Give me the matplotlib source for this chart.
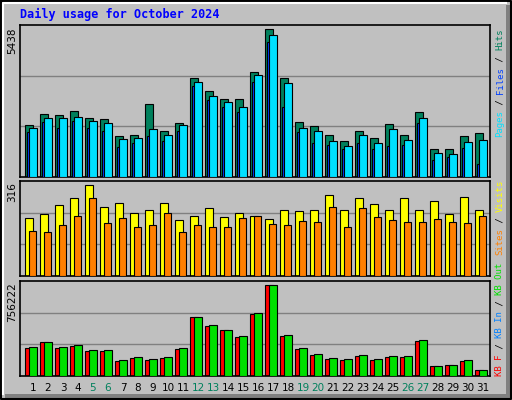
import matplotlib
matplotlib.use("Agg")
import matplotlib.pyplot as plt
from matplotlib.patches import Rectangle

days = list(range(1, 32))
weekend_days = [5, 6, 12, 13, 19, 20, 26, 27]
hits = [1876, 2271, 2235, 2378, 2127, 2091, 1482, 1518, 2629, 1661, 1948, 3525, 3059, 2808, 2808, 3740,
        5282, 3525, 1984, 1840, 1518, 1303, 1661, 1410, 1912, 1518, 2342, 1016, 1016, 1482, 1589]
files = [1769, 2127, 2127, 2163, 2020, 1948, 1374, 1410, 1733, 1518, 1876, 3382, 2880, 2701, 2521, 3633,
         5067, 3346, 1769, 1661, 1303, 1123, 1518, 1231, 1733, 1338, 2127, 872, 837, 1267, 1338]
pages = [1625, 1984, 1769, 2020, 1769, 1661, 1087, 1231, 1482, 1303, 1661, 3238, 2772, 2521, 2342, 3382,
         4816, 2521, 1625, 1231, 1159, 1016, 1231, 1016, 1123, 1159, 1948, 621, 729, 1052, 478]
visits = [192, 205, 235, 258, 304, 231, 244, 208, 221, 244, 185, 198, 225, 195, 208, 201,
          188, 221, 215, 218, 268, 218, 261, 238, 221, 258, 218, 248, 205, 264, 221]
sites = [149, 145, 168, 201, 261, 175, 192, 162, 168, 211, 145, 168, 162, 162, 192, 201,
         172, 168, 182, 178, 228, 162, 225, 195, 185, 178, 178, 188, 178, 175, 201]
kbytes = [227000, 270000, 227000, 243000, 204000, 204000, 124000, 148000, 132000, 148000, 219000,
          473000, 402000, 370000, 315000, 505000, 727000, 323000, 219000, 172000, 140000, 132000,
          164000, 132000, 156000, 156000, 283000, 77000, 85000, 124000, 45000]
kbytes_f = [225000, 268000, 225000, 241000, 202000, 202000, 123000, 147000, 131000, 147000, 217000,
            468000, 399000, 367000, 312000, 497000, 724000, 320000, 217000, 170000, 139000, 131000,
            156000, 131000, 155000, 155000, 281000, 76000, 84000, 123000, 44000]
max_hits, max_visits, max_kb = 5438, 316, 756222

W, H = 512, 400
fig = plt.figure(figsize=(W / 100, H / 100), dpi=100)
fig.patch.set_facecolor("#C0C0C0")
bg = fig.add_axes([0, 0, 1, 1], zorder=-10)
bg.set_xlim(0, W); bg.set_ylim(H, 0); bg.axis("off")
bg.add_patch(Rectangle((0, 0), W, H, fc="#C0C0C0", ec="none"))
bg.plot([1, W - 1, W - 1, 1, 1], [1, 1, H - 1, H - 1, 1], color="black", lw=1.5)
bg.plot([3, 3, W - 6], [H - 6, 3, 3], color="white", lw=1.5)
bg.add_patch(Rectangle((W - 6, 5), 4, H - 7, fc="#808080", ec="none"))
bg.add_patch(Rectangle((5, H - 6), W - 7, 4, fc="#808080", ec="none"))

fig.text(20 / W, 1 - 14 / H, "Daily usage for October 2024", color="#0000FF",
         family="DejaVu Sans Mono", weight="bold", fontsize=8.5, va="center", ha="left")

LW = 0.8
def panel(y0, y1, ymax):
    ax = fig.add_axes([20 / W, 1 - y1 / H, 470 / W, (y1 - y0) / H])
    ax.set_facecolor("#C0C0C0")
    ax.set_xlim(0, 470); ax.set_ylim(0, ymax)
    ax.set_xticks([]); ax.set_yticks([])
    for s in ax.spines.values():
        s.set_color("black"); s.set_linewidth(1.2)
    for f in (1 / 3, 2 / 3):
        ax.axhline(ymax * f, color="#808080", lw=1, zorder=0)
    return ax

xs = [15 * i for i in range(31)]

ax1 = panel(25, 177, max_hits)
ax1.bar([x + 5 for x in xs], hits, width=8, align="edge", color="#00805C", ec="black", lw=LW, zorder=2)
ax1.bar([x + 7 for x in xs], pages, width=4, align="edge", color="#0040FF", ec="black", lw=LW, zorder=3)
ax1.bar([x + 9 for x in xs], files, width=7.7, align="edge", color="#00E0FF", ec="black", lw=LW, zorder=4)

ax2 = panel(181, 276, max_visits)
ax2.bar([x + 5 for x in xs], visits, width=8, align="edge", color="#FFFF00", ec="black", lw=LW, zorder=2)
ax2.bar([x + 9 for x in xs], sites, width=7.3, align="edge", color="#FF8000", ec="black", lw=LW, zorder=3)

ax3 = panel(281, 376, max_kb)
ax3.bar([x + 5 for x in xs], kbytes_f, width=8, align="edge", color="#FF0000", ec="black", lw=LW, zorder=2)
ax3.bar([x + 9 for x in xs], kbytes, width=7.7, align="edge", color="#00E000", ec="black", lw=LW, zorder=3)

for x, d in zip(xs, days):
    c = "#00805C" if d in weekend_days else "black"
    fig.text((20 + x + 13) / W, 1 - 388 / H, str(d), color=c, fontsize=7.5, ha="center", va="center")

for y, lab in ((27, str(max_hits)), (182, str(max_visits)), (282, str(max_kb))):
    fig.text(12 / W, 1 - y / H, lab, rotation=90, fontsize=7.5, ha="center", va="top")

FS = 6.5
STEP = 0.6 * FS * 100 / 72
def vlabel(parts, ybottom):
    y = ybottom
    for txt, col in parts:
        fig.text(500 / W, 1 - y / H, txt, rotation=90, color=col, family="DejaVu Sans Mono",
                 fontsize=FS, ha="center", va="bottom")
        y -= len(txt) * STEP

vlabel([("Pages", "#00E0FF"), (" / ", "black"), ("Files", "#0040FF"), (" / ", "black"), ("Hits", "#00805C")], 137)
vlabel([("Sites", "#FF8000"), (" / ", "black"), ("Visits", "#FFFF00")], 255)
vlabel([("KB F", "#FF0000"), (" / ", "black"), ("KB In", "#0080FF"), (" / ", "black"), ("KB Out", "#00E000")], 376)

fig.savefig("out.png", dpi=100, facecolor=fig.get_facecolor())
